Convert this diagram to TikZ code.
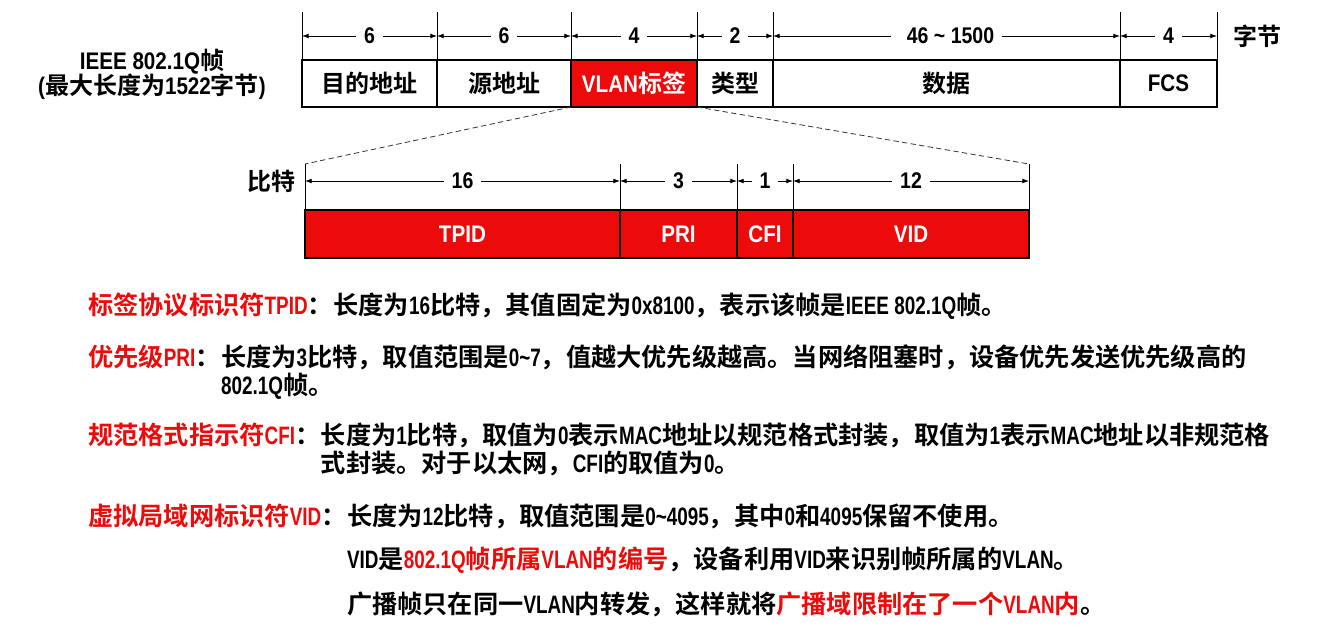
\documentclass[tikz,border=0pt]{standalone}
\usepackage{fontspec}
\setmainfont{Liberation Sans}[FakeStretch=0.86]
\newfontface\latwide{Liberation Sans Bold}[FakeStretch=0.86]
\newfontface\latslim{Liberation Sans Bold}[FakeStretch=0.75]
\newfontface\cjkbf{Noto Sans CJK SC Bold}
\def\latbf{\latwide}
\usetikzlibrary{arrows.meta,calc,positioning}
\definecolor{tagred}{RGB}{236,10,10}
% switch fonts between Latin and Chinese characters
\XeTeXinterchartokenstate=1
\newXeTeXintercharclass\cjkcls
\newcount\cjkn
\def\setcjkrange#1#2{\cjkn=#1\relax
  \loop\XeTeXcharclass\cjkn=\cjkcls\relax\ifnum\cjkn<#2\advance\cjkn by 1\repeat}
\setcjkrange{"3000}{"303F}
\setcjkrange{"4E00}{"9FFF}
\setcjkrange{"FF00}{"FFEF}
\XeTeXinterchartoks 0 \cjkcls = {\cjkbf}
\XeTeXinterchartoks 4095 \cjkcls = {\cjkbf}
\XeTeXinterchartoks \cjkcls 0 = {\latbf}
\XeTeXinterchartoks 4095 0 = {\latbf}

\begin{document}
\begin{tikzpicture}[x=0.75pt,y=0.75pt,>={Latex[length=5pt,width=3.6pt]},
    font=\fontsize{18}{20.5}\selectfont\bfseries,
    field/.style={draw,line width=0.8pt,outer sep=0pt,inner sep=0pt,minimum height=35.25pt},
    bitfield/.style={field,fill=tagred,text=white,minimum height=36pt},
    num/.style={fill=white,inner xsep=6pt,inner ysep=1pt,font=\fontsize{17}{17}\selectfont\bfseries},
    dim/.style={<->,line width=0.6pt},
    zoomline/.style={dash pattern=on 4pt off 2.5pt,line width=0.6pt,black!80},
    note/.style={inner sep=0pt,align=left,
      font=\fontsize{18.9}{21}\selectfont\bfseries\let\latbf\latslim\latbf}]
  \useasboundingbox (0,0) rectangle (1322,-632);
  % byte layout of the frame
  \node[field,minimum width=101.25pt,anchor=west] (dst) at (302,-83.5) {目的地址};
  \node[field,minimum width=100.5pt,right=0pt of dst] (src) {源地址};
  \node[field,minimum width=94.5pt,fill=tagred,text=white,right=0pt of src] (vlan) {VLAN标签};
  \node[field,minimum width=57pt,right=0pt of vlan] (type) {类型};
  \node[field,minimum width=260.25pt,right=0pt of type] (data) {数据};
  \node[field,minimum width=72.75pt,right=0pt of data] (fcs) {FCS};
  \foreach \f in {dst,src,vlan,type,data,fcs}
    \draw[line width=0.6pt] (\f.north west) -- ++(0,48);
  \draw[line width=0.6pt] (fcs.north east) -- ++(0,48);
  \foreach \f/\n in {dst/6,src/6,vlan/4,type/2,data/{\hspace{6pt}46 \textasciitilde{} 1500\hspace{6pt}},fcs/4}
    \draw[dim] ($(\f.north west)+(0,24)$) -- node[num]{\n} ($(\f.north east)+(0,24)$);
  \node (bytes) at (1257,-36) {字节};
  \node[align=center] (frame) at (152,-74) {IEEE 802.1Q帧\\[-2pt](最大长度为1522字节)};

  % bit layout of the tag
  \node[bitfield,minimum width=236.25pt,anchor=west] (tpid) at (305,-234) {TPID};
  \node[bitfield,minimum width=87.75pt,right=0pt of tpid] (pri) {PRI};
  \node[bitfield,minimum width=42pt,right=0pt of pri] (cfi) {CFI};
  \node[bitfield,minimum width=177pt,right=0pt of cfi] (vid) {VID};
  \foreach \f in {tpid,pri,cfi,vid}
    \draw[line width=0.6pt] (\f.north west) -- ++(0,46) coordinate (\f-top);
  \draw[line width=0.6pt] (vid.north east) -- ++(0,46) coordinate (vid-end);
  \foreach \f/\n in {tpid/16,pri/3,cfi/1,vid/12}
    \draw[dim] ($(\f.north west)+(0,29)$) -- node[num]{\n} ($(\f.north east)+(0,29)$);
  \node (bits) at (271,-181) {比特};
  \draw[zoomline] (vlan.south west) -- (tpid-top);
  \draw[zoomline] (vlan.south east) -- (vid-end);

  % field notes
  \node[note,anchor=west] (tpidkey) at (88,-305) {{\color{tagred}标签协议标识符TPID}：};
  \node[note,anchor=north west] (tpidval) at (tpidkey.north east)
    {长度为16比特，其值固定为0x8100，表示该帧是IEEE 802.1Q帧。};
  \node[note,anchor=west] (prikey) at (88,-357) {{\color{tagred}优先级PRI}：};
  \node[note,anchor=north west] (prival) at (prikey.north east)
    {长度为3比特，取值范围是0\textasciitilde7，值越大优先级越高。当网络阻塞时，设备优先发送优先级高的\\802.1Q帧。};
  \node[note,anchor=west] (cfikey) at (88,-435) {{\color{tagred}规范格式指示符CFI}：};
  \node[note,anchor=north west] (cfival) at (cfikey.north east)
    {长度为1比特，取值为0表示MAC地址以规范格式封装，取值为1表示MAC地址以非规范格\\式封装。对于以太网，CFI的取值为0。};
  \node[note,anchor=west] (vidkey) at (88,-516) {{\color{tagred}虚拟局域网标识符VID}：};
  \node[note,anchor=north west] (vidval) at (vidkey.north east)
    {长度为12比特，取值范围是0\textasciitilde4095，其中0和4095保留不使用。};
  \node[note,anchor=west] (vidnum) at (vidval.west |- 0,-560)
    {VID是{\color{tagred}802.1Q帧所属VLAN的编号}，设备利用VID来识别帧所属的VLAN。};
  \node[note,anchor=west] (vidbc) at (vidval.west |- 0,-604)
    {广播帧只在同一VLAN内转发，这样就将{\color{tagred}广播域限制在了一个VLAN内}。};
\end{tikzpicture}
\end{document}
